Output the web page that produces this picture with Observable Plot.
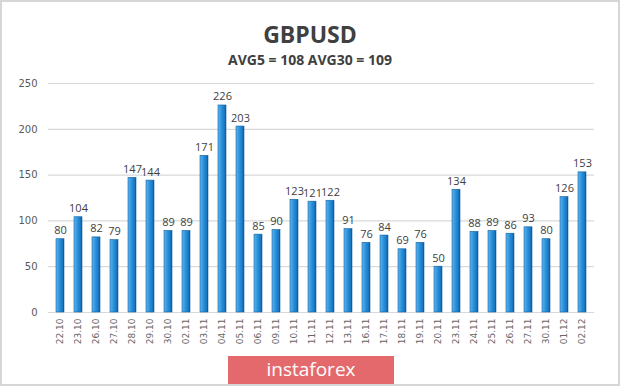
<!DOCTYPE html>
<html>
<head>
<meta charset="utf-8">
<script src="https://cdn.jsdelivr.net/npm/d3@7"></script>
<script src="https://cdn.jsdelivr.net/npm/@observablehq/plot@0.6"></script>
<style>
  html, body { margin: 0; padding: 0; background: #fff; }
  #wrap { position: relative; width: 620px; height: 386px; overflow: hidden; background: #fff; }
  #frame { position: absolute; left: 0; top: 0; width: 616px; height: 382px; border: 2px solid #d6d6d6; pointer-events: none; }
  .t { position: absolute; left: 0; width: 620px; text-align: center; font-family: "Open Sans", sans-serif; font-weight: 700; color: #404040; }
  #title { top: 20px; font-size: 23px; line-height: 28px; }
  #subtitle { top: 51px; font-size: 14px; line-height: 18px; }
  #logo { position: absolute; left: 228px; top: 356px; width: 166px; height: 28px; background: #e4696d; color: #fff;
          font-family: "Open Sans", sans-serif; font-size: 19px; line-height: 27px; text-align: center; }
  #chart { position: absolute; left: 0; top: 0; }
</style>
</head>
<body>
<div id="wrap">
  <div id="chart"></div>
  <div class="t" id="title">GBPUSD</div>
  <div class="t" id="subtitle">AVG5 = 108 AVG30 = 109</div>
  <div id="logo">instaforex</div>
  <div id="frame"></div>
</div>
<script>
const dates = ["22.10","23.10","26.10","27.10","28.10","29.10","30.10","02.11","03.11","04.11","05.11","06.11","09.11","10.11","11.11","12.11","13.11","16.11","17.11","18.11","19.11","20.11","23.11","24.11","25.11","26.11","27.11","30.11","01.12","02.12"];
const values = [80,104,82,79,147,144,89,89,171,226,203,85,90,123,121,122,91,76,84,69,76,50,134,88,89,86,93,80,126,153];
const yTicks = [0,50,100,150,200,250];

const data = dates.map((d, i) => ({date: d, value: values[i]}));

const chart = Plot.plot({
  width: 620,
  height: 386,
  marginTop: 83,
  marginBottom: 74,
  marginLeft: 48,
  marginRight: 26,
  style: {background: "transparent", fontFamily: "DejaVu Sans, sans-serif"},
  x: {domain: dates, label: null, padding: 0.55, paddingOuter: 0.1},
  y: {domain: [0, 250], label: null},
  marks: [
    Plot.gridY(yTicks, {stroke: "#d9d9d9", strokeOpacity: 1, strokeWidth: 1.2}),
    Plot.axisY(yTicks, {tickSize: 0, tickPadding: 11, fontSize: 10, fill: "#595959", label: null}),
    Plot.axisX({tickSize: 0, tickRotate: -90, tickPadding: 6, fontSize: 9, fill: "#666", label: null}),
    Plot.barY(data, {x: "date", y: "value", fill: "url(#barGrad)", stroke: "#14609f", strokeWidth: 0.6}),
    Plot.text(data, {x: "date", y: "value", text: d => String(d.value), lineAnchor: "bottom", dy: -5,
      fontSize: 11, fill: "#404040", fontFamily: "Open Sans, sans-serif"})
  ]
});

const svgNS = "http://www.w3.org/2000/svg";
const defs = document.createElementNS(svgNS, "defs");
defs.innerHTML = `<linearGradient id="barGrad" x1="0" x2="1" y1="0" y2="0">
  <stop offset="0" stop-color="#5fb4ee"/>
  <stop offset="0.45" stop-color="#2a92dc"/>
  <stop offset="0.8" stop-color="#1a78c4"/>
  <stop offset="1" stop-color="#0f548e"/>
</linearGradient>`;
chart.insertBefore(defs, chart.firstChild);
document.getElementById("chart").appendChild(chart);
</script>
</body>
</html>
